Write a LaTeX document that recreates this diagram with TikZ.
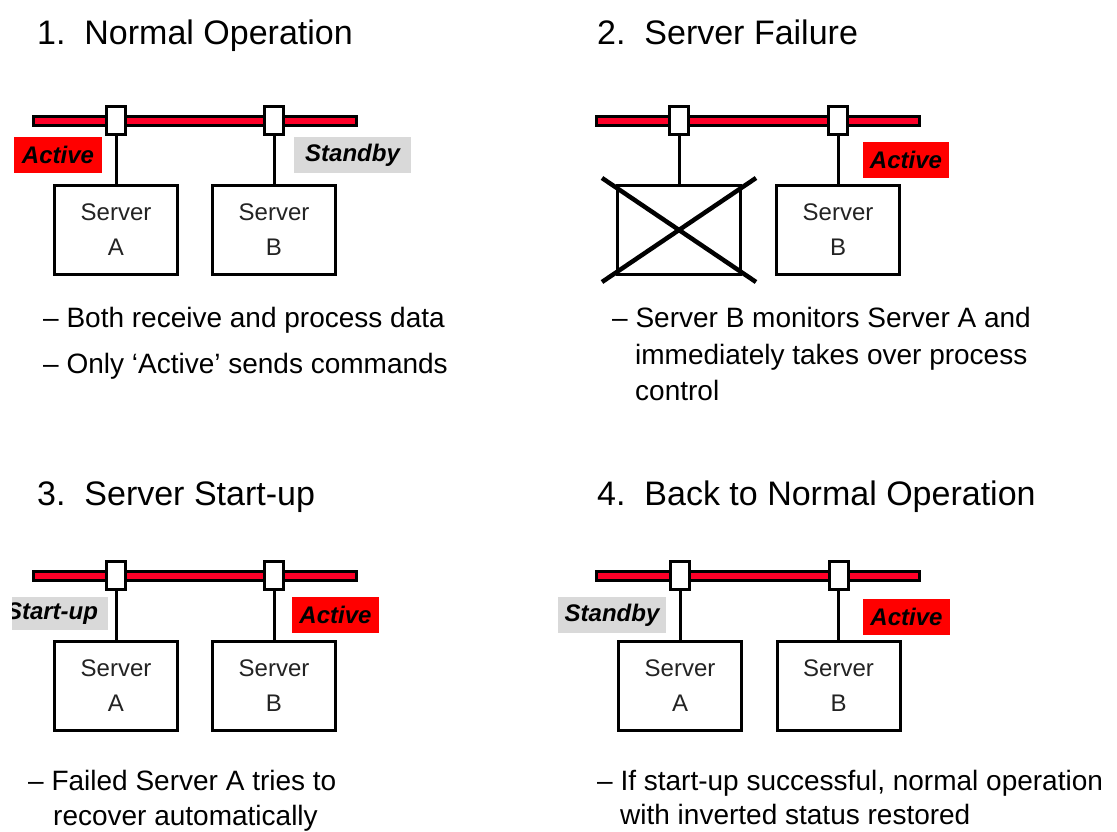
\documentclass[tikz,border=0pt]{standalone}
\usepackage{fontspec}
\setmainfont{Liberation Sans}
\usetikzlibrary{calc}
\definecolor{barred}{RGB}{255,0,40}
\definecolor{lblred}{RGB}{255,0,0}
\definecolor{lblgray}{RGB}{217,217,217}
\definecolor{srvtext}{RGB}{35,35,35}
\begin{document}
\begin{tikzpicture}[x=1pt,y=-1pt,
  bar/.style={draw=black,line width=3pt,fill=barred,minimum width=323pt,minimum height=9pt,inner sep=0pt},
  tap/.style={draw=black,line width=3pt,fill=white,minimum width=19pt,minimum height=28pt,inner sep=0pt},
  srv/.style={draw=black,line width=3pt,fill=white,minimum width=123pt,minimum height=89pt,inner sep=0pt,
    align=center,text=srvtext,font=\fontsize{24}{35}\selectfont},
  link/.style={line width=3pt},
  cross/.style={line width=4.5pt},
  lbl/.style={inner sep=0pt,minimum height=36pt,font=\fontsize{24}{28}\selectfont\bfseries\itshape},
  actlbl/.style={lbl,fill=lblred},
  stdlbl/.style={lbl,fill=lblgray},
  title/.style={anchor=base west,inner sep=0pt,font=\fontsize{34}{40}\selectfont},
  note/.style={anchor=base west,inner sep=0pt,font=\fontsize{28}{34}\selectfont}
]
\useasboundingbox (0,0) rectangle (1117,832);

% ---------- Panel 1 ----------
\node[title] (t1) at (37,45) {1.\ \ Normal Operation};
\node[bar] (p1bar) at (195,121) {};
\node[tap] (p1tapA) at (116,120.5) {};
\node[tap] (p1tapB) at (274,120.5) {};
\node[srv] (p1srvA) at (116,230) {Server\\A};
\node[srv] (p1srvB) at (274,230) {Server\\B};
\draw[link] (p1tapA.south) -- (p1srvA.north);
\draw[link] (p1tapB.south) -- (p1srvB.north);
\node[actlbl,minimum width=88pt] (p1act) at (58,155) {Active};
\node[stdlbl,minimum width=117pt] (p1std) at (352.5,155) {Standby};
\node[note] (n1a) at (43,327) {– Both receive and process data};
\node[note] (n1b) at (43,373) {– Only ‘Active’ sends commands};

% ---------- Panel 2 ----------
\node[title] (t2) at (597,45) {2.\ \ Server Failure};
\node[bar] (p2bar) at (758,121) {};
\node[tap] (p2tapA) at (679,120.5) {};
\node[tap] (p2tapB) at (838,120.5) {};
\node[srv] (p2srvA) at (679,230) {};
\node[srv] (p2srvB) at (838,230) {Server\\B};
\draw[link] (p2tapA.south) -- (p2srvA.north);
\draw[link] (p2tapB.south) -- (p2srvB.north);
\coordinate (x1) at ($(p2srvA.north west)+(-14,-6)$);
\coordinate (x2) at ($(p2srvA.south east)+(14,6)$);
\coordinate (x3) at ($(p2srvA.south west)+(-14,6)$);
\coordinate (x4) at ($(p2srvA.north east)+(14,-6)$);
\draw[cross] (x1) -- (x2);
\draw[cross] (x3) -- (x4);
\node[actlbl,minimum width=86pt] (p2act) at (906,160) {Active};
\node[note] (n2a) at (612,327) {– Server B monitors Server A and};
\node[note] (n2b) at (635,364) {immediately takes over process};
\node[note] (n2c) at (635,400) {control};

% ---------- Panel 3 ----------
\node[title] (t3) at (37,505) {3.\ \ Server Start-up};
\node[bar] (p3bar) at (195,576) {};
\node[tap] (p3tapA) at (116,575.5) {};
\node[tap] (p3tapB) at (274,575.5) {};
\node[srv] (p3srvA) at (116,686) {Server\\A};
\node[srv] (p3srvB) at (274,686) {Server\\B};
\draw[link] (p3tapA.south) -- (p3srvA.north);
\draw[link] (p3tapB.south) -- (p3srvB.north);
\begin{scope}
  \clip (12,590) rectangle (120,640);
  \node[stdlbl,minimum width=112pt,minimum height=33pt] (p3std) at (52,613.5) {Start-up};
\end{scope}
\node[actlbl,minimum width=87pt] (p3act) at (335.5,615) {Active};
\node[note] (n3a) at (28,790) {– Failed Server A tries to};
\node[note] (n3b) at (53,825) {recover automatically};

% ---------- Panel 4 ----------
\node[title] (t4) at (597,505) {4.\ \ Back to Normal Operation};
\node[bar] (p4bar) at (758,576) {};
\node[tap] (p4tapA) at (680,575.5) {};
\node[tap] (p4tapB) at (838.5,575.5) {};
\node[srv] (p4srvA) at (680,686) {Server\\A};
\node[srv] (p4srvB) at (838.5,686) {Server\\B};
\draw[link] (p4tapA.south) -- (p4srvA.north);
\draw[link] (p4tapB.south) -- (p4srvB.north);
\node[stdlbl,minimum width=108pt] (p4std) at (612,615) {Standby};
\node[actlbl,minimum width=87pt] (p4act) at (906.5,617) {Active};
\node[note] (n4a) at (597,790) {– If start-up successful, normal operation};
\node[note] (n4b) at (620,824) {with inverted status restored};
\end{tikzpicture}
\end{document}
